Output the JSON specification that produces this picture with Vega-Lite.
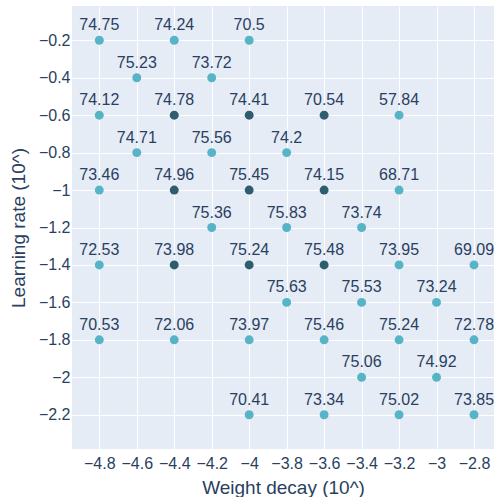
{
  "$schema": "https://vega.github.io/schema/vega-lite/v6.json",
  "width": 422,
  "height": 443,
  "autosize": {"type": "none"},
  "padding": {"left": 72, "top": 6, "right": 0, "bottom": 48},
  "background": "white",
  "config": {
    "view": {"fill": "#E5ECF6", "stroke": null},
    "font": "Liberation Sans",
    "axis": {
      "grid": true,
      "gridColor": "white",
      "gridWidth": 1,
      "domain": false,
      "ticks": false,
      "labelFont": "Liberation Sans",
      "labelFontSize": 16,
      "labelColor": "#2a3f5f",
      "titleFont": "Liberation Sans",
      "titleFontSize": 19,
      "titleFontWeight": "normal",
      "titleColor": "#2a3f5f"
    }
  },
  "data": {
    "values": [
      {"wd": -4.8, "lr": -0.2, "acc": 74.75, "group": "other"},
      {"wd": -4.4, "lr": -0.2, "acc": 74.24, "group": "other"},
      {"wd": -4.0, "lr": -0.2, "acc": 70.5, "group": "other"},
      {"wd": -4.6, "lr": -0.4, "acc": 75.23, "group": "other"},
      {"wd": -4.2, "lr": -0.4, "acc": 73.72, "group": "other"},
      {"wd": -4.8, "lr": -0.6, "acc": 74.12, "group": "other"},
      {"wd": -4.4, "lr": -0.6, "acc": 74.78, "group": "core"},
      {"wd": -4.0, "lr": -0.6, "acc": 74.41, "group": "core"},
      {"wd": -3.6, "lr": -0.6, "acc": 70.54, "group": "core"},
      {"wd": -3.2, "lr": -0.6, "acc": 57.84, "group": "other"},
      {"wd": -4.6, "lr": -0.8, "acc": 74.71, "group": "other"},
      {"wd": -4.2, "lr": -0.8, "acc": 75.56, "group": "other"},
      {"wd": -3.8, "lr": -0.8, "acc": 74.2, "group": "other"},
      {"wd": -4.8, "lr": -1.0, "acc": 73.46, "group": "other"},
      {"wd": -4.4, "lr": -1.0, "acc": 74.96, "group": "core"},
      {"wd": -4.0, "lr": -1.0, "acc": 75.45, "group": "core"},
      {"wd": -3.6, "lr": -1.0, "acc": 74.15, "group": "core"},
      {"wd": -3.2, "lr": -1.0, "acc": 68.71, "group": "other"},
      {"wd": -4.2, "lr": -1.2, "acc": 75.36, "group": "other"},
      {"wd": -3.8, "lr": -1.2, "acc": 75.83, "group": "other"},
      {"wd": -3.4, "lr": -1.2, "acc": 73.74, "group": "other"},
      {"wd": -4.8, "lr": -1.4, "acc": 72.53, "group": "other"},
      {"wd": -4.4, "lr": -1.4, "acc": 73.98, "group": "core"},
      {"wd": -4.0, "lr": -1.4, "acc": 75.24, "group": "core"},
      {"wd": -3.6, "lr": -1.4, "acc": 75.48, "group": "core"},
      {"wd": -3.2, "lr": -1.4, "acc": 73.95, "group": "other"},
      {"wd": -2.8, "lr": -1.4, "acc": 69.09, "group": "other"},
      {"wd": -3.8, "lr": -1.6, "acc": 75.63, "group": "other"},
      {"wd": -3.4, "lr": -1.6, "acc": 75.53, "group": "other"},
      {"wd": -3.0, "lr": -1.6, "acc": 73.24, "group": "other"},
      {"wd": -4.8, "lr": -1.8, "acc": 70.53, "group": "other"},
      {"wd": -4.4, "lr": -1.8, "acc": 72.06, "group": "other"},
      {"wd": -4.0, "lr": -1.8, "acc": 73.97, "group": "other"},
      {"wd": -3.6, "lr": -1.8, "acc": 75.46, "group": "other"},
      {"wd": -3.2, "lr": -1.8, "acc": 75.24, "group": "other"},
      {"wd": -2.8, "lr": -1.8, "acc": 72.78, "group": "other"},
      {"wd": -3.4, "lr": -2.0, "acc": 75.06, "group": "other"},
      {"wd": -3.0, "lr": -2.0, "acc": 74.92, "group": "other"},
      {"wd": -4.0, "lr": -2.2, "acc": 70.41, "group": "other"},
      {"wd": -3.6, "lr": -2.2, "acc": 73.34, "group": "other"},
      {"wd": -3.2, "lr": -2.2, "acc": 75.02, "group": "other"},
      {"wd": -2.8, "lr": -2.2, "acc": 73.85, "group": "other"}
    ]
  },
  "encoding": {
    "x": {
      "field": "wd",
      "type": "quantitative",
      "scale": {"domain": [-4.9457, -2.6933], "nice": false, "zero": false},
      "axis": {
        "title": "Weight decay (10^)",
        "values": [-4.8, -4.6, -4.4, -4.2, -4.0, -3.8, -3.6, -3.4, -3.2, -3.0, -2.8],
        "format": "~g",
        "labelPadding": 6,
        "titleBaseline": "alphabetic",
        "titleY": 44.7
      }
    },
    "y": {
      "field": "lr",
      "type": "quantitative",
      "scale": {"domain": [-2.383, -0.0169], "nice": false, "zero": false},
      "axis": {
        "title": "Learning rate (10^)",
        "values": [-2.2, -2.0, -1.8, -1.6, -1.4, -1.2, -1.0, -0.8, -0.6, -0.4, -0.2],
        "format": "~g",
        "labelPadding": 2,
        "titleBaseline": "alphabetic",
        "titleX": -48
      }
    }
  },
  "layer": [
    {
      "mark": {"type": "point", "filled": true, "opacity": 1, "size": 80},
      "encoding": {
        "color": {
          "field": "group",
          "type": "nominal",
          "scale": {"domain": ["other", "core"], "range": ["#56B4C6", "#2E5E6E"]},
          "legend": null
        }
      }
    },
    {
      "mark": {
        "type": "text",
        "font": "Liberation Sans",
        "fontSize": 16,
        "color": "#2a3f5f",
        "baseline": "alphabetic",
        "align": "center",
        "dy": -10
      },
      "encoding": {
        "text": {"field": "acc", "type": "quantitative"}
      }
    }
  ]
}
